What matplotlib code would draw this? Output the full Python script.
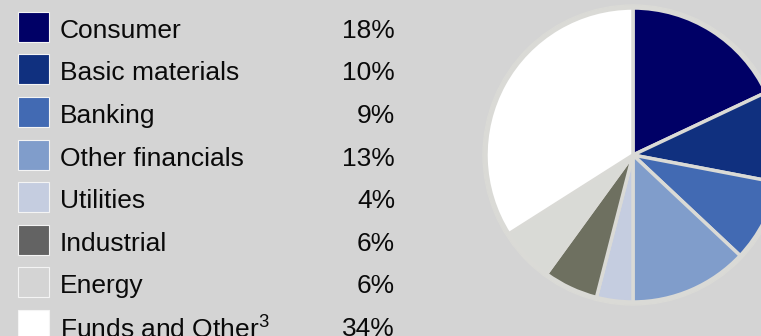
import matplotlib.pyplot as plt
from matplotlib.patches import Rectangle

plt.rcParams['font.family'] = ['Liberation Sans', 'DejaVu Sans']
plt.rcParams['mathtext.fontset'] = 'custom'
plt.rcParams['mathtext.rm'] = 'Liberation Sans'

# sector split
sectors = ['Consumer', 'Basic materials', 'Banking', 'Other financials',
           'Utilities', 'Industrial', 'Energy', 'Funds and Other$^3$']
shares = [18, 10, 9, 13, 4, 6, 6, 34]
pie_colors = ['#000066', '#10307f', '#426ab3', '#809dcb',
              '#c5cde0', '#6e7060', '#d9dad6', '#ffffff']
key_colors = ['#000066', '#10307f', '#426ab3', '#809dcb',
              '#c5cde0', '#636363', '#d4d4d4', '#ffffff']

bg = '#d4d4d4'
W, H = 761, 336

fig = plt.figure(figsize=(W / 100, H / 100), dpi=100, facecolor=bg)
ax = fig.add_axes([0, 0, 1, 1])
ax.set_facecolor(bg)

# ring behind the pie
ax.add_patch(plt.Circle((633, H - 155), 150, color='#dadad6', zorder=1))
ax.pie(shares, colors=pie_colors, startangle=90, counterclock=False,
       center=(633, H - 155), radius=147, frame=True,
       wedgeprops=dict(edgecolor='#dadad6', linewidth=2.5, zorder=2))
ax.set_xlim(0, W)
ax.set_ylim(0, H)
ax.axis('off')

# key rows
row0, step = 26.7, 42.6
for i, (name, val, c) in enumerate(zip(sectors, shares, key_colors)):
    yc = H - (row0 + i * step)
    ax.add_patch(Rectangle((17.5, yc - 15), 31, 30, facecolor=c,
                           edgecolor='#f4f4f4', linewidth=0.8, zorder=3))
    ax.text(60, yc - 1.5, name, fontsize=19, va='center_baseline', ha='left',
            color='#0a0a0a')
    ax.text(395, yc - 1.5, f'{val}%', fontsize=19, va='center_baseline',
            ha='right', color='#0a0a0a')

fig.savefig('out.png', dpi=100, facecolor=bg)
